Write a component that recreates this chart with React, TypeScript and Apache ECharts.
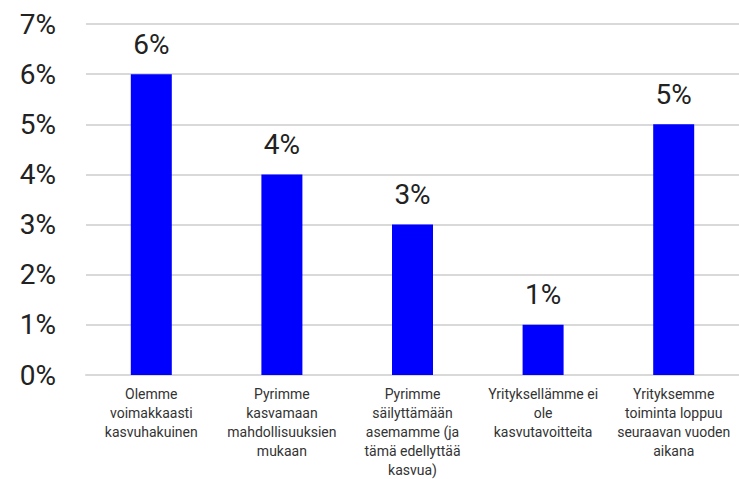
import React, { useEffect, useRef } from "react";
import * as echarts from "echarts";

const categories = [
  "Olemme\nvoimakkaasti\nkasvuhakuinen",
  "Pyrimme\nkasvamaan\nmahdollisuuksien\nmukaan",
  "Pyrimme\nsäilyttämään\nasemamme (ja\ntämä edellyttää\nkasvua)",
  "Yrityksellämme ei\nole\nkasvutavoitteita",
  "Yrityksemme\ntoiminta loppuu\nseuraavan vuoden\naikana",
];
const values = [6, 4, 3, 1, 5];
const yMin = 0;
const yMax = 7;
const yInterval = 1;

export default function App() {
  const ref = useRef<HTMLDivElement>(null);
  useEffect(() => {
    if (!ref.current) return;
    const chart = echarts.init(ref.current, null, { renderer: "svg" });
    chart.setOption({
      animation: false,
      textStyle: { fontFamily: "Roboto" },
      grid: { left: 86, right: 0, top: 24, bottom: 104, containLabel: false },
      xAxis: {
        type: "category",
        data: categories,
        axisLine: { lineStyle: { color: "#d9d9d9", width: 2 } },
        axisTick: { show: false },
        axisLabel: {
          interval: 0,
          color: "#333",
          fontSize: 14,
          lineHeight: 19,
          margin: 9,
          fontFamily: "Roboto",
        },
      },
      yAxis: {
        type: "value",
        min: yMin,
        max: yMax,
        interval: yInterval,
        axisLine: { show: false },
        axisTick: { show: false },
        splitLine: { lineStyle: { color: "#d9d9d9", width: 2 } },
        axisLabel: {
          formatter: "{value}%",
          color: "#222",
          fontSize: 28,
          margin: 30,
          fontFamily: "Roboto",
        },
      },
      series: [
        {
          type: "bar",
          data: values,
          barWidth: 41,
          itemStyle: { color: "#0000ff" },
          label: {
            show: true,
            position: "top",
            distance: 16,
            formatter: "{c}%",
            color: "#222",
            fontSize: 28,
            fontFamily: "Roboto",
          },
        },
      ],
    });
    return () => chart.dispose();
  }, []);
  return (
    <div
      ref={ref}
      style={{ position: "fixed", left: 0, top: 0, width: 739, height: 479, background: "#fff" }}
    />
  );
}
